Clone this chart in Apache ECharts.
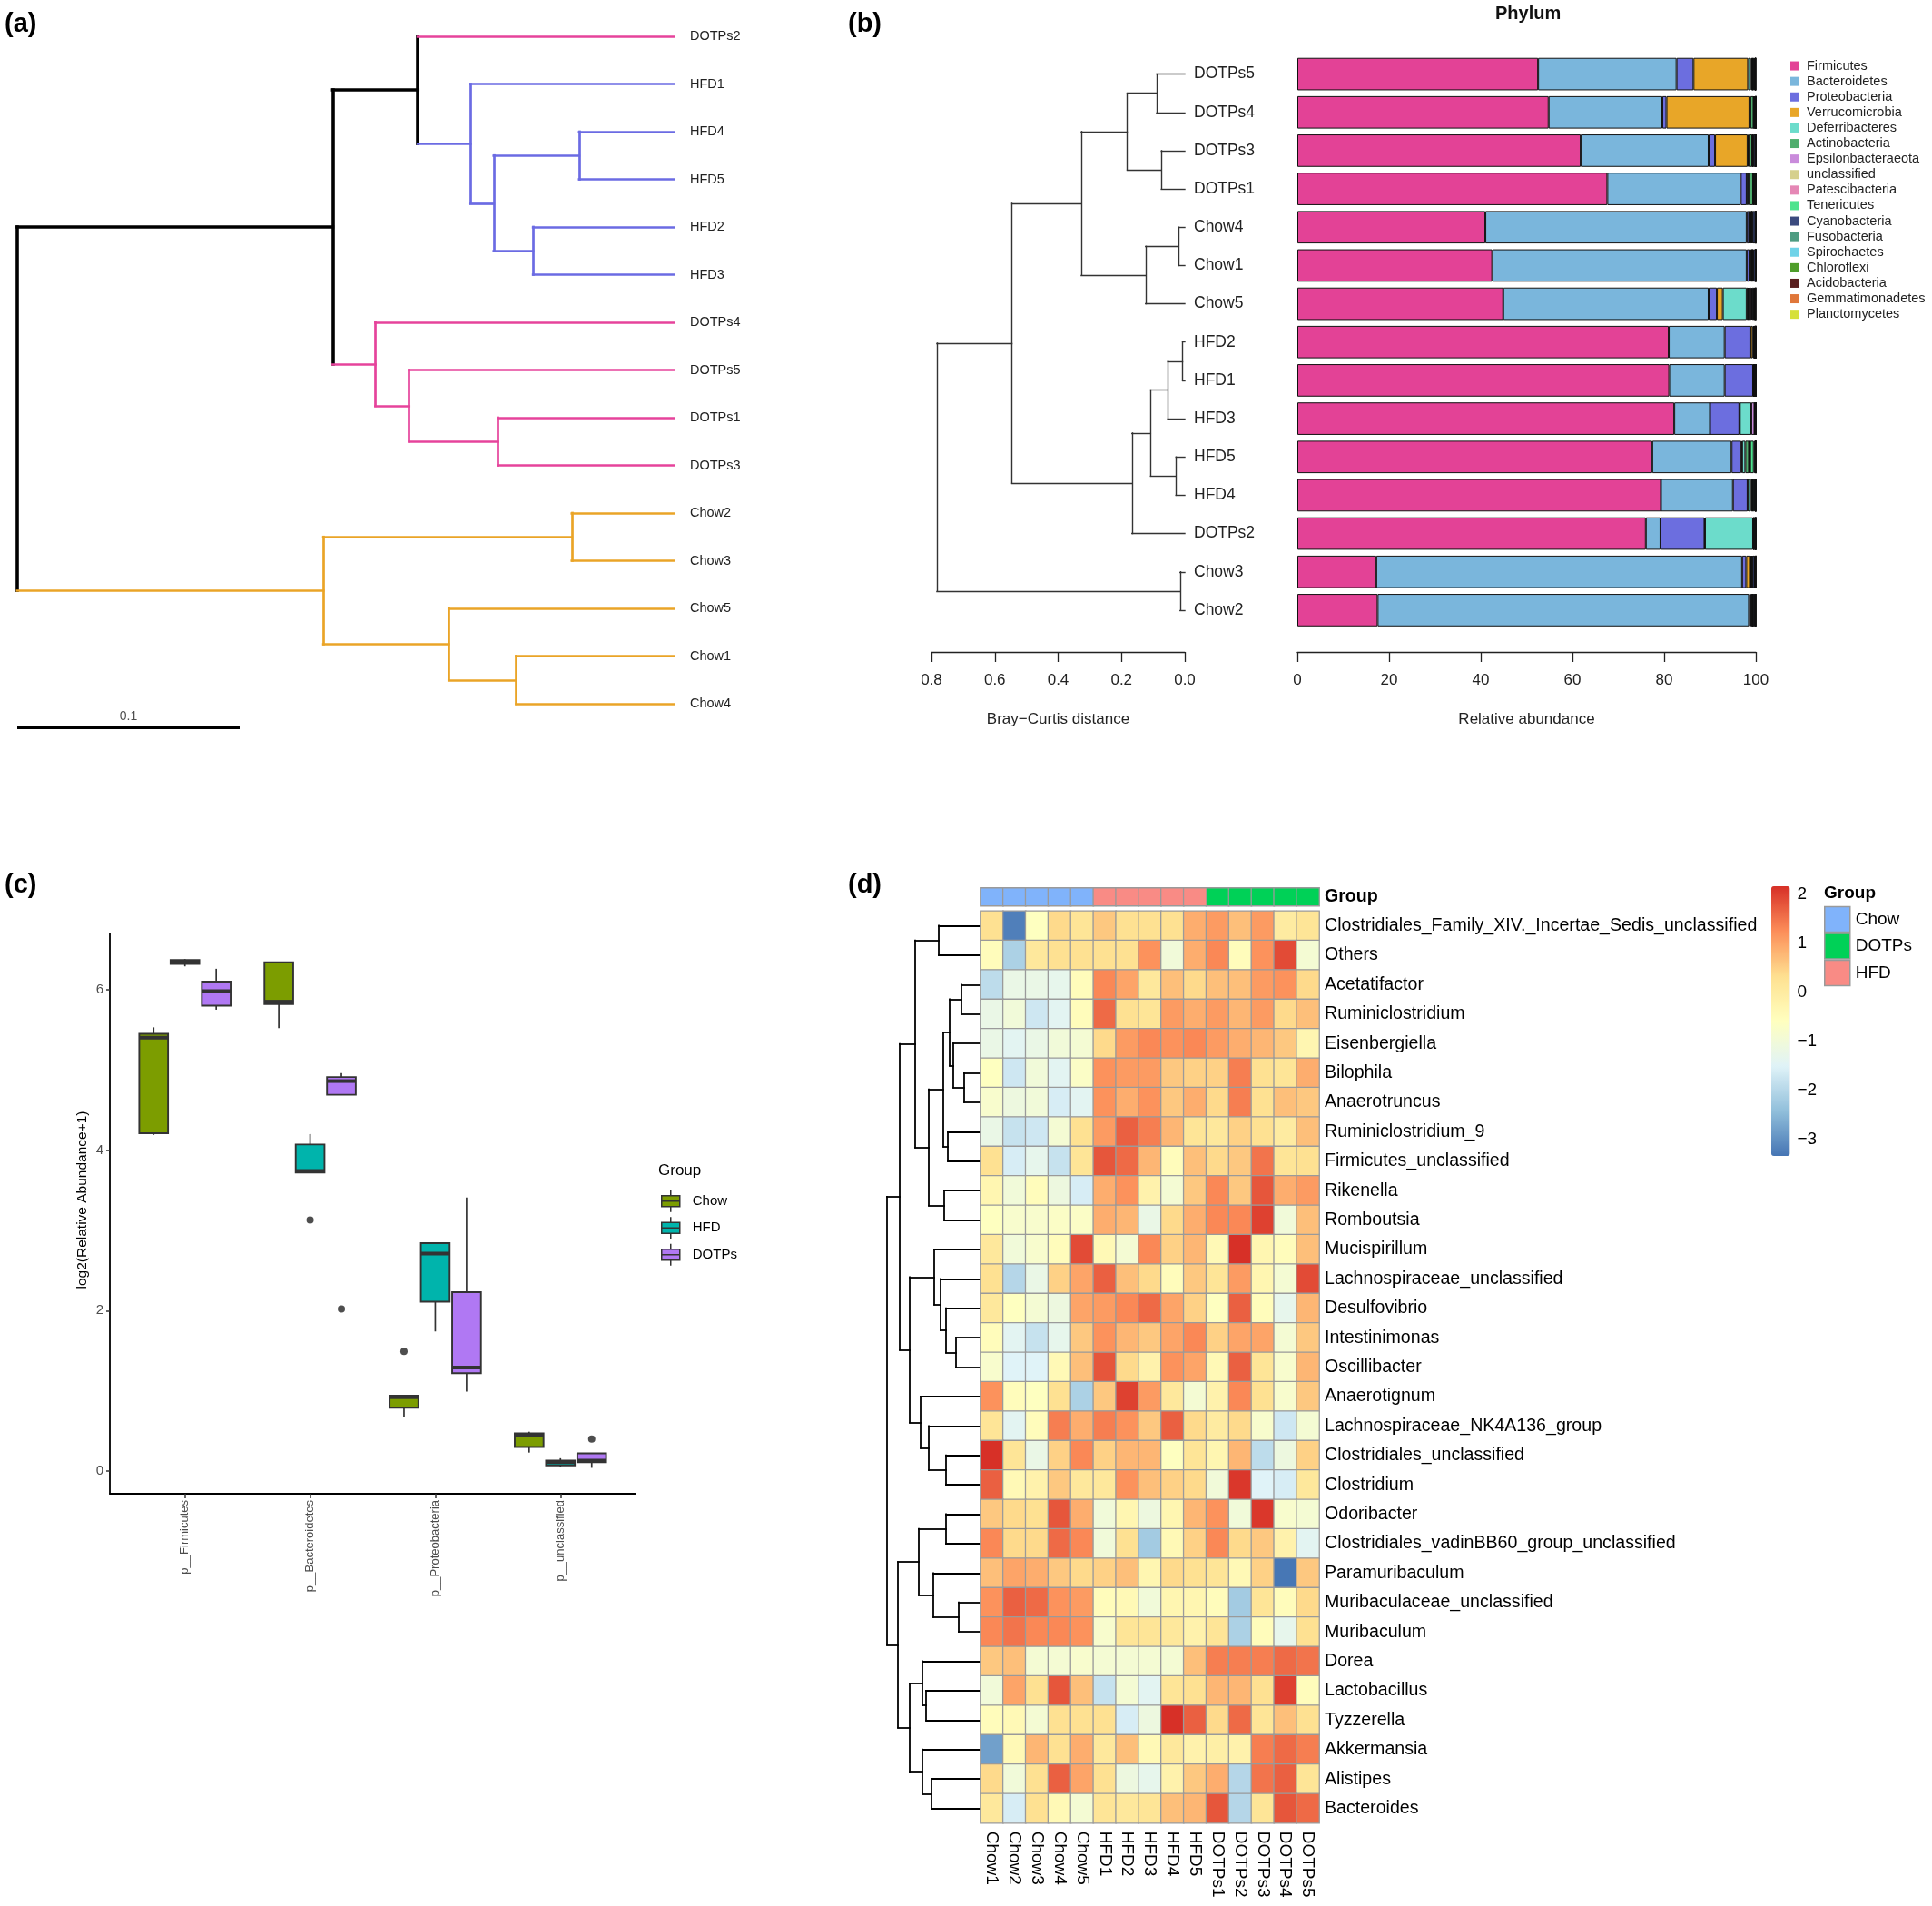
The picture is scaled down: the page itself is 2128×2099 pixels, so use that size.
<!DOCTYPE html>
<html><head><meta charset="utf-8">
<script src="https://cdn.jsdelivr.net/npm/echarts@6/dist/echarts.min.js"></script>
<style>html,body{margin:0;padding:0;background:#fff}#c{width:2128px;height:2099px}</style>
</head><body><div id="c"></div>
<script>
// ================= DATA =================
// (a) phylogenetic tree
const aLeaves = ['DOTPs2','HFD1','HFD4','HFD5','HFD2','HFD3','DOTPs4','DOTPs5','DOTPs1','DOTPs3','Chow2','Chow3','Chow5','Chow1','Chow4'];
const aLeafDepth = 0.2951;
const scaleBarLength = 0.1;
// [childA, childB, depth from root]; numbers refer to earlier merges
const aMerges = [
  ['HFD4','HFD5',0.2526], ['HFD2','HFD3',0.2319], [0,1,0.2142], ['HFD1',2,0.2038], ['DOTPs2',3,0.1801],
  ['DOTPs1','DOTPs3',0.2161], ['DOTPs5',5,0.1762], ['DOTPs4',6,0.1610], [4,7,0.1418],
  ['Chow2','Chow3',0.2493], ['Chow1','Chow4',0.2243], ['Chow5',10,0.1940], [9,11,0.1376], [8,12,0]
];
const treeColors = { DOTPs: '#E6439B', HFD: '#6B6BE3', Chow: '#EAA427' };

// (b) Bray-Curtis clustering + phylum composition
const bLeaves = ['DOTPs5','DOTPs4','DOTPs3','DOTPs1','Chow4','Chow1','Chow5','HFD2','HFD1','HFD3','HFD5','HFD4','DOTPs2','Chow3','Chow2'];
const bMerges = [
  ['DOTPs5','DOTPs4',0.089], ['DOTPs3','DOTPs1',0.074], [0,1,0.182], ['Chow4','Chow1',0.020], [3,'Chow5',0.124],
  [2,4,0.327], ['HFD2','HFD1',0.007], [6,'HFD3',0.054], ['HFD5','HFD4',0.028], [7,8,0.108], [9,'DOTPs2',0.167],
  [5,10,0.546], ['Chow3','Chow2',0.015], [11,12,0.783]
];
const phyla = ['Firmicutes','Bacteroidetes','Proteobacteria','Verrucomicrobia','Deferribacteres','Actinobacteria','Epsilonbacteraeota','unclassified','Patescibacteria','Tenericutes','Cyanobacteria','Fusobacteria','Spirochaetes','Chloroflexi','Acidobacteria','Gemmatimonadetes','Planctomycetes'];
const phylaColors = ['#E34296','#7AB6DC','#6C6EDF','#E8A628','#6CDCCB','#4FAE6D','#C98BDB','#D6D08C','#E587B5','#4DE38E','#3B4A7E','#4E9C82','#6FD3E8','#4E9D2A','#5A1E1E','#E0773A','#D6E03A'];
// rows follow bLeaves order, columns follow phyla order (%)
const abundance = [
  [52.5,30.2,3.7,11.9,0.6,0.3,0.05,0.1,0.05,0.3,0.1,0.05,0.05,0.02,0.03,0.02,0.03],
  [54.8,24.8,0.9,18.1,0.2,0.7,0.05,0.1,0.05,0.1,0.1,0.05,0.02,0.03,0,0,0],
  [61.8,27.9,1.4,7.1,0.2,0.8,0.05,0.1,0.05,0.1,0.4,0.02,0.02,0.02,0.04,0,0],
  [67.6,29.1,1.3,0.1,0.3,1.0,0.05,0.1,0.05,0.1,0.2,0.05,0.02,0.02,0.01,0,0],
  [41.0,57.0,0.5,0.1,0.1,0.3,0.05,0.1,0.05,0.1,0.6,0.05,0.02,0.02,0.01,0,0],
  [42.5,55.5,0.6,0.1,0.1,0.3,0.05,0.1,0.05,0.1,0.5,0.05,0.02,0.02,0.01,0,0],
  [44.9,44.8,1.8,1.3,5.2,0.3,0.1,0.1,0.5,0.2,0.4,0.1,0.1,0.05,0.1,0.05,0],
  [81.0,12.2,5.6,0.5,0.2,0.1,0.05,0.05,0.02,0.05,0.15,0.02,0.02,0.02,0.02,0,0],
  [81.1,12.1,6.2,0.05,0.05,0.1,0.02,0.05,0.01,0.02,0.25,0.01,0.01,0.01,0.02,0,0],
  [82.2,7.8,6.4,0.1,2.4,0.1,0.7,0.05,0.05,0.05,0.1,0.01,0.02,0.01,0.01,0,0],
  [77.4,17.3,2.1,0.2,0.7,0.8,0.1,0.1,0.05,0.8,0.3,0.05,0.05,0.03,0.02,0,0],
  [79.3,15.7,3.2,0.1,0.6,0.3,0.05,0.1,0.05,0.4,0.1,0.03,0.03,0.02,0.02,0,0],
  [76.0,3.2,9.6,0.1,10.5,0.1,0.05,0.05,0.02,0.05,0.25,0.02,0.02,0.02,0.02,0,0],
  [17.2,79.8,0.9,0.8,0.1,0.2,0.05,0.1,0.05,0.1,0.5,0.05,0.05,0.05,0.05,0,0],
  [17.5,81.0,0.5,0.1,0.1,0.1,0.02,0.05,0.02,0.05,0.4,0.02,0.02,0.02,0.1,0,0]
];

// (c) boxplots: [lower whisker, Q1, median, Q3, upper whisker] per phylum
const boxCategories = ['p__Firmicutes','p__Bacteroidetes','p__Proteobacteria','p__unclassified'];
const boxGroups = ['Chow','HFD','DOTPs'];
const boxColors = ['#7C9D00','#00B4AC','#B078F3'];
const chowStats  = [[4.19,4.21,5.40,5.45,5.53],[5.52,5.82,5.85,6.34,6.35],[0.67,0.79,0.92,0.94,0.94],[0.23,0.30,0.45,0.47,0.49]];
const hfdStats   = [[6.29,6.32,6.35,6.37,6.38],[3.72,3.72,3.74,4.07,4.20],[1.74,2.11,2.71,2.84,2.85],[0.05,0.07,0.11,0.13,0.16]];
const dotpsStats = [[5.75,5.80,5.98,6.10,6.26],[4.69,4.69,4.86,4.91,4.96],[0.99,1.22,1.29,2.23,3.41],[0.04,0.11,0.13,0.22,0.22]];
// outliers: [category number (1-based), value]
const chowOutliers  = [[3,1.49]];
const hfdOutliers   = [[2,3.13]];
const dotpsOutliers = [[2,2.02],[4,0.40]];
const boxYTicks = [0,2,4,6];

// (d) heatmap
const heatSamples = ['Chow1','Chow2','Chow3','Chow4','Chow5','HFD1','HFD2','HFD3','HFD4','HFD5','DOTPs1','DOTPs2','DOTPs3','DOTPs4','DOTPs5'];
const genera = ['Clostridiales_Family_XIV._Incertae_Sedis_unclassified','Others','Acetatifactor','Ruminiclostridium','Eisenbergiella','Bilophila','Anaerotruncus','Ruminiclostridium_9','Firmicutes_unclassified','Rikenella','Romboutsia','Mucispirillum','Lachnospiraceae_unclassified','Desulfovibrio','Intestinimonas','Oscillibacter','Anaerotignum','Lachnospiraceae_NK4A136_group','Clostridiales_unclassified','Clostridium','Odoribacter','Clostridiales_vadinBB60_group_unclassified','Paramuribaculum','Muribaculaceae_unclassified','Muribaculum','Dorea','Lactobacillus','Tyzzerella','Akkermansia','Alistipes','Bacteroides'];
const heatValues = [
  [0.3,-3.2,-0.6,0.4,0.2, 0.6,0.3,0.3,0.3,0.9, 1.1,0.7,1.1,0.0,0.2],
  [-0.5,-2.1,0.1,0.3,0.3, 0.3,0.3,1.2,-1.0,0.9, 1.3,-0.5,1.2,1.9,-0.9],
  [-1.9,-1.2,-1.2,-1.3,-0.5, 1.3,1.0,0.1,0.7,0.4, 0.7,0.7,1.1,1.2,0.4],
  [-1.2,-1.0,-1.7,-1.4,-0.5, 1.6,0.3,0.2,1.1,0.9, 1.1,0.8,1.1,0.4,0.7],
  [-1.2,-1.4,-1.2,-1.0,-0.9, 0.4,1.1,1.3,1.2,1.3, 1.1,0.9,0.8,0.6,-0.3],
  [-0.6,-1.7,-1.0,-1.4,-0.7, 1.2,1.1,1.1,0.6,0.5, 0.5,1.4,0.3,0.2,0.9],
  [-0.8,-1.1,-1.0,-1.6,-1.4, 1.2,0.9,1.2,0.6,0.9, 0.4,1.4,0.3,0.7,0.6],
  [-1.2,-1.8,-1.7,-0.9,0.3, 1.1,1.7,1.4,0.8,0.2, 0.1,0.5,0.3,0.0,0.7],
  [0.3,-1.6,-1.3,-1.8,0.2, 1.8,1.6,0.8,-0.5,0.7, 0.4,0.6,1.5,0.2,0.3],
  [-0.3,-1.0,-0.5,-1.1,-1.6, 0.9,1.2,-0.2,-0.9,0.6, 1.3,0.6,1.8,0.9,1.1],
  [-0.6,-0.8,-0.8,-0.7,-0.7, 0.9,0.8,-1.2,0.4,0.9, 1.3,1.3,2.0,-1.0,0.7],
  [0.1,-1.0,-0.8,-0.5,1.9, -0.4,-0.9,1.3,0.5,0.8, -0.4,2.2,-0.3,-0.5,0.7],
  [0.3,-2.0,-1.2,0.5,1.0, 1.7,0.7,0.4,-0.5,0.6, 0.2,1.1,-0.3,-0.9,1.9],
  [0.1,-0.6,-0.9,-1.1,1.0, 1.1,1.3,1.6,1.0,0.5, -0.6,1.7,-0.5,-1.3,0.8],
  [-0.5,-1.4,-1.8,-1.3,0.6, 1.2,0.8,0.6,1.0,1.3, 0.5,1.0,1.0,-0.9,0.6],
  [-0.8,-1.5,-1.5,-0.4,0.7, 1.8,0.4,-0.2,1.2,1.0, -0.4,1.7,0.2,-0.8,0.8],
  [1.2,-0.5,-0.6,0.3,-2.1, 0.6,2.0,1.1,0.1,-0.9, -0.2,1.3,0.3,-0.8,0.6],
  [0.2,-1.4,-0.5,1.4,0.9, 1.4,1.2,0.6,1.7,0.4, 0.0,0.4,-0.8,-1.7,-0.9],
  [2.2,0.2,-1.2,0.5,1.3, 0.5,0.8,0.8,-0.6,0.2, -0.3,0.8,-1.9,-1.1,0.5],
  [1.7,-0.4,-0.2,0.6,0.1, 0.1,1.2,0.7,0.5,0.4, -1.0,2.1,-1.5,-1.6,0.1],
  [0.6,0.4,0.3,1.8,0.9, -1.0,-0.3,-1.1,-0.3,0.8, 1.2,-1.0,2.1,-0.8,-0.9],
  [1.3,0.4,0.4,1.6,1.3, -1.0,0.3,-2.2,-0.4,0.5, 1.3,0.4,0.6,-0.2,-1.4],
  [0.7,1.0,0.9,0.6,0.4, 0.5,0.7,-0.3,0.4,0.3, 0.2,-0.4,0.5,-3.3,0.6],
  [1.2,1.7,1.6,1.2,1.1, -0.5,-0.4,-1.0,-0.3,-0.3, -0.5,-2.2,0.2,-0.5,0.4],
  [1.3,1.5,1.3,1.3,1.2, -0.8,0.2,0.2,0.1,-0.2, 0.2,-2.1,-0.5,-1.3,0.3],
  [0.6,0.7,-0.9,-0.9,-0.8, -0.9,-0.9,-0.9,-0.9,0.7, 1.4,1.4,1.4,1.6,1.5],
  [-1.0,1.0,0.3,1.8,0.7, -1.8,-0.9,-1.4,0.2,0.3, 0.8,0.8,0.3,2.0,-0.5],
  [-0.5,-0.4,-0.9,0.3,0.3, 0.3,-1.6,-1.1,2.2,1.7, 0.4,1.6,0.2,0.7,0.3],
  [-2.8,-0.4,0.8,0.3,0.9, 0.1,0.7,-0.4,0.1,-0.2, -0.1,-0.2,1.4,1.6,1.4],
  [0.4,-1.0,0.3,1.7,1.0, 0.3,-1.1,-1.3,-0.2,0.6, 0.9,-2.0,1.5,1.7,0.2],
  [0.1,-1.6,0.3,-0.4,-0.9, 0.2,0.1,0.2,0.7,0.8, 1.8,-2.0,0.2,1.8,1.6]
];
const heatMin = -3.33, heatMax = 2.17;
const heatTicks = [-3,-2,-1,0,1,2];
const heatPalette = ['#4575B4','#91BFDB','#E0F3F8','#FFFFBF','#FEE090','#FC8D59','#D73027'];
const groupLevels = ['Chow','DOTPs','HFD'];
const groupColors = ['#80B3FB','#00D157','#F98B85'];
const G = genera;
const dMerges = [
  [G[0],G[1],0.45], [G[2],G[3],0.20], [G[5],G[6],0.17], [G[4],2,0.29], [1,3,0.33], [G[7],G[8],0.35],
  [4,5,0.40], [G[9],G[10],0.39], [6,7,0.56], [0,8,0.71],
  [G[14],G[15],0.26], [G[13],10,0.37], [G[12],11,0.43], [G[11],12,0.50],
  [G[18],G[19],0.37], [G[17],14,0.56], [G[16],15,0.65], [13,16,0.77], [9,17,0.88],
  [G[20],G[21],0.37], [G[23],G[24],0.23], [G[22],20,0.51], [19,21,0.67],
  [G[26],G[27],0.59], [G[25],23,0.63], [G[29],G[30],0.53], [G[28],25,0.63], [24,26,0.77],
  [22,27,0.90], [18,28,1.02]
];
const dRootHeight = 1.02;

// ================= HELPERS =================
function dendroSegments(leaves, merges, leafX, groupOf) {
  const info = {};
  leaves.forEach((n, i) => { info[n] = { x: leafX, y: i, g: groupOf ? groupOf(n) : 'all' }; });
  const nodes = [], segs = [];
  const ref = c => (typeof c === 'number' ? nodes[c] : info[c]);
  merges.forEach(m => {
    const a = ref(m[0]), b = ref(m[1]);
    const node = { x: m[2], y: (a.y + b.y) / 2, g: a.g === b.g ? a.g : null };
    segs.push({ coords: [[node.x, a.y], [node.x, b.y]], g: node.g });
    segs.push({ coords: [[node.x, a.y], [a.x, a.y]], g: a.g });
    segs.push({ coords: [[node.x, b.y], [b.x, b.y]], g: b.g });
    nodes.push(node);
  });
  return segs;
}
const groupOfName = n => n.replace(/\d+$/, '');
const minus = v => (v < 0 ? '\u2212' + Math.abs(v) : String(v));
const FONT = 'Liberation Sans, Arial, Helvetica, sans-serif';

// ================= LAYOUT =================
const grids = [
  { left: 19, top: 40, width: 723, height: 735 },          // 0 (a) tree
  { left: 1026, top: 60.5, width: 279, height: 632.5 },    // 1 (b) dendrogram
  { left: 1429, top: 60.5, width: 505, height: 632.5 },    // 2 (b) bars
  { left: 121, top: 1028, width: 579, height: 617 },       // 3 (c) boxplot
  { left: 977, top: 1003.3, width: 102, height: 1004.4 },  // 4 (d) dendrogram
  { left: 1080, top: 1003.3, width: 373, height: 1004.4 }, // 5 (d) heatmap
  { left: 1080, top: 978, width: 373, height: 19.5 },      // 6 (d) annotation
  { left: 1951, top: 976, width: 20.5, height: 297 }       // 7 (d) colour bar scale
].map(g => Object.assign({ containLabel: false }, g));

const hidden = { show: false };
const xAxes = [], yAxes = [];
// (a)
xAxes.push({ gridIndex: 0, type: 'value', min: 0, max: aLeafDepth, show: false });
yAxes.push({ gridIndex: 0, type: 'value', min: 0, max: aLeaves.length - 1, inverse: true, position: 'right',
  axisLine: hidden, axisTick: hidden, splitLine: hidden,
  axisLabel: { customValues: aLeaves.map((_, i) => i), formatter: v => aLeaves[v], margin: 18, fontSize: 14.5, color: '#222', fontFamily: FONT } });
// (b) dendro
const bAxisLine = { show: true, onZero: false, lineStyle: { color: '#222', width: 1.3 } };
xAxes.push({ gridIndex: 1, type: 'value', min: 0, max: 0.8, interval: 0.2, inverse: true, offset: 25, position: 'bottom',
  axisLine: bAxisLine, axisTick: { show: true, length: 11, lineStyle: { color: '#222', width: 1.3 } }, splitLine: hidden,
  axisLabel: { formatter: v => v.toFixed(1), fontSize: 17, color: '#222', margin: 23 },
  name: 'Bray\u2212Curtis distance', nameLocation: 'middle', nameGap: 66, nameTextStyle: { fontSize: 17, color: '#222' } });
yAxes.push({ gridIndex: 1, type: 'value', min: -0.5, max: bLeaves.length - 0.5, inverse: true, position: 'right',
  axisLine: { show: false, onZero: false }, axisTick: hidden, splitLine: hidden,
  axisLabel: { customValues: bLeaves.map((_, i) => i), formatter: v => bLeaves[v], margin: 10, fontSize: 17.5, color: '#222' } });
// (b) bars
xAxes.push({ gridIndex: 2, type: 'value', min: 0, max: 100, interval: 20, offset: 25, position: 'bottom',
  axisLine: bAxisLine, axisTick: { show: true, length: 11, lineStyle: { color: '#222', width: 1.3 } }, splitLine: hidden,
  axisLabel: { fontSize: 17, color: '#222', margin: 23 },
  name: 'Relative abundance', nameLocation: 'middle', nameGap: 66, nameTextStyle: { fontSize: 17, color: '#222' } });
yAxes.push({ gridIndex: 2, type: 'category', data: bLeaves, inverse: true, show: false });
// (c)
xAxes.push({ gridIndex: 3, type: 'value', min: 0.4, max: 0.6 + boxCategories.length, position: 'bottom',
  axisLine: { show: true, onZero: false, lineStyle: { color: '#000', width: 1.8 } },
  axisTick: { show: true, customValues: boxCategories.map((_, i) => i + 1), length: 5, lineStyle: { color: '#333', width: 1.5 } },
  splitLine: hidden,
  axisLabel: { customValues: boxCategories.map((_, i) => i + 1), formatter: v => boxCategories[v - 1], rotate: 90, fontSize: 13, color: '#4D4D4D', margin: 7 } });
yAxes.push({ gridIndex: 3, type: 'value', min: -0.283, max: 6.70, position: 'left',
  axisLine: { show: true, onZero: false, lineStyle: { color: '#000', width: 1.8 } },
  axisTick: { show: true, customValues: boxYTicks, length: 4, lineStyle: { color: '#333', width: 1.5 } },
  splitLine: hidden,
  axisLabel: { customValues: boxYTicks, fontSize: 15, color: '#4D4D4D', margin: 7 },
  name: 'log2(Relative Abundance+1)', nameLocation: 'middle', nameGap: 22,
  nameTextStyle: { fontSize: 15.5, color: '#000', padding: [0, 0, 0, 30] } });
// (d) dendro
xAxes.push({ gridIndex: 4, type: 'value', min: 0, max: dRootHeight, inverse: true, show: false });
yAxes.push({ gridIndex: 4, type: 'value', min: -0.5, max: genera.length - 0.5, inverse: true, show: false });
// (d) heatmap
xAxes.push({ gridIndex: 5, type: 'category', data: heatSamples, position: 'bottom',
  axisLine: hidden, axisTick: hidden, splitLine: hidden,
  axisLabel: { rotate: -90, fontSize: 19, color: '#000', margin: 9, interval: 0 } });
yAxes.push({ gridIndex: 5, type: 'category', data: genera, inverse: true, position: 'right',
  axisLine: hidden, axisTick: hidden, splitLine: hidden,
  axisLabel: { fontSize: 19.6, color: '#000', margin: 6, interval: 0 } });
// (d) annotation
xAxes.push({ gridIndex: 6, type: 'category', data: heatSamples, show: false });
yAxes.push({ gridIndex: 6, type: 'category', data: ['Group'], position: 'right',
  axisLine: hidden, axisTick: hidden, splitLine: hidden,
  axisLabel: { fontSize: 19.6, fontWeight: 'bold', color: '#000', margin: 6 } });
// (d) colour scale labels
xAxes.push({ gridIndex: 7, type: 'value', show: false });
yAxes.push({ gridIndex: 7, type: 'value', min: heatMin, max: heatMax, position: 'right',
  axisLine: hidden, axisTick: hidden, splitLine: hidden,
  axisLabel: { customValues: heatTicks, formatter: minus, fontSize: 19, color: '#000', margin: 8 } });

// ================= SERIES =================
const series = [];
// (a) tree
const aSegs = dendroSegments(aLeaves, aMerges, aLeafDepth, groupOfName);
series.push({ type: 'lines', coordinateSystem: 'cartesian2d', xAxisIndex: 0, yAxisIndex: 0, clip: false, silent: true,
  lineStyle: { width: 2.7, opacity: 1, cap: 'square' },
  data: aSegs.map(s => ({ coords: s.coords, lineStyle: { color: s.g ? treeColors[s.g] : '#000', width: s.g ? 2.7 : 3.6 } })) });
series.push({ type: 'lines', coordinateSystem: 'cartesian2d', xAxisIndex: 0, yAxisIndex: 0, clip: false, silent: true,
  lineStyle: { width: 3, color: '#000', opacity: 1 },
  data: [{ coords: [[0, aLeaves.length - 0.5], [scaleBarLength, aLeaves.length - 0.5]] }] });
series.push({ type: 'scatter', xAxisIndex: 0, yAxisIndex: 0, clip: false, silent: true, symbolSize: 0,
  data: [[scaleBarLength / 2, aLeaves.length - 0.5]],
  label: { show: true, position: 'top', distance: 5, formatter: String(scaleBarLength), fontSize: 14, color: '#222' } });
// (b) dendrogram
const bSegs = dendroSegments(bLeaves, bMerges, 0, null);
series.push({ type: 'lines', coordinateSystem: 'cartesian2d', xAxisIndex: 1, yAxisIndex: 1, clip: false, silent: true,
  lineStyle: { width: 1.4, color: '#333', opacity: 1, cap: 'square' },
  data: bSegs.map(s => ({ coords: s.coords })) });
// (b) stacked bars
phyla.forEach((p, j) => {
  series.push({ type: 'bar', name: p, stack: 'phylum', xAxisIndex: 2, yAxisIndex: 2, barWidth: 35.7, silent: true,
    itemStyle: { color: phylaColors[j], borderColor: '#111', borderWidth: 1 },
    data: abundance.map(row => row[j]) });
});
// (c) boxplots
const boxOffsets = [-0.25, 0, 0.25];
const boxWidthUnits = 0.23;
function makeBoxRender(color) {
  return function (params, api) {
    const x = api.value(0);
    const pLo = api.coord([x, api.value(1)]);
    const pQ1 = api.coord([x, api.value(2)]);
    const pMed = api.coord([x, api.value(3)]);
    const pQ3 = api.coord([x, api.value(4)]);
    const pHi = api.coord([x, api.value(5)]);
    const w = api.size([boxWidthUnits, 0])[0];
    const cx = pMed[0], stroke = '#333';
    return { type: 'group', children: [
      { type: 'line', shape: { x1: cx, y1: pHi[1], x2: cx, y2: pQ3[1] }, style: { stroke, lineWidth: 1.7 } },
      { type: 'line', shape: { x1: cx, y1: pQ1[1], x2: cx, y2: pLo[1] }, style: { stroke, lineWidth: 1.7 } },
      { type: 'rect', shape: { x: cx - w / 2, y: pQ3[1], width: w, height: pQ1[1] - pQ3[1] }, style: { fill: color, stroke, lineWidth: 1.9 } },
      { type: 'line', shape: { x1: cx - w / 2, y1: pMed[1], x2: cx + w / 2, y2: pMed[1] }, style: { stroke, lineWidth: 4 } }
    ] };
  };
}
const allStats = [chowStats, hfdStats, dotpsStats];
const allOutliers = [chowOutliers, hfdOutliers, dotpsOutliers];
boxGroups.forEach((g, gi) => {
  series.push({ type: 'custom', name: 'c:' + g, xAxisIndex: 3, yAxisIndex: 3, silent: true,
    itemStyle: { color: boxColors[gi] },
    dimensions: ['x', 'lo', 'q1', 'med', 'q3', 'hi'], encode: { x: 0, y: [1, 2, 3, 4, 5] },
    renderItem: makeBoxRender(boxColors[gi]),
    data: allStats[gi].map((s, i) => [i + 1 + boxOffsets[gi]].concat(s)) });
});
boxGroups.forEach((g, gi) => {
  series.push({ type: 'scatter', name: 'outlier ' + g, xAxisIndex: 3, yAxisIndex: 3, silent: true,
    symbolSize: 8, itemStyle: { color: '#222' },
    data: allOutliers[gi].map(o => [o[0] + boxOffsets[gi], o[1]]) });
});
// (d) dendrogram
const dSegs = dendroSegments(genera, dMerges, 0, null);
series.push({ type: 'lines', coordinateSystem: 'cartesian2d', xAxisIndex: 4, yAxisIndex: 4, clip: false, silent: true,
  lineStyle: { width: 1.8, color: '#000', opacity: 1, cap: 'square' },
  data: dSegs.map(s => ({ coords: s.coords })) });
// (d) heatmap
const heatSeriesIndex = series.length;
const heatData = [];
heatValues.forEach((row, r) => row.forEach((v, c) => heatData.push([c, r, v])));
series.push({ type: 'heatmap', xAxisIndex: 5, yAxisIndex: 5, silent: true, emphasis: { disabled: true },
  itemStyle: { borderColor: '#9A9A9A', borderWidth: 1.3 }, data: heatData });
// (d) annotation row
groupLevels.forEach((g, gi) => {
  series.push({ type: 'heatmap', name: 'd:' + g, xAxisIndex: 6, yAxisIndex: 6, silent: true, emphasis: { disabled: true },
    itemStyle: { color: groupColors[gi], borderColor: '#9A9A9A', borderWidth: 1.3 },
    data: heatSamples.map((s, c) => [c, 0, 1]).filter((d, c) => groupOfName(heatSamples[c]) === g) });
});

// ================= OPTION =================
const panelLabel = (t, l, tp) => ({ text: t, left: l, top: tp, padding: 0, textStyle: { fontSize: 29, fontWeight: 'bold', color: '#000', fontFamily: FONT } });
const option = {
  animation: false,
  backgroundColor: '#fff',
  textStyle: { fontFamily: FONT },
  title: [
    panelLabel('(a)', 5, 12), panelLabel('(b)', 934, 12), panelLabel('(c)', 5, 960), panelLabel('(d)', 934, 960),
    { text: 'Phylum', left: 1647, top: 5, padding: 0, textStyle: { fontSize: 20, fontWeight: 'bold', color: '#111' } },
    { text: 'Group', left: 725, top: 1281, padding: 0, textStyle: { fontSize: 17, fontWeight: 'normal', color: '#000' } },
    { text: 'Group', left: 2009, top: 974, padding: 0, textStyle: { fontSize: 19, fontWeight: 'bold', color: '#000' } }
  ],
  grid: grids,
  xAxis: xAxes,
  yAxis: yAxes,
  legend: [
    { data: phyla, orient: 'vertical', left: 1972, top: 64, padding: 0, itemGap: 0, itemWidth: 10, itemHeight: 10,
      icon: 'rect', selectedMode: false, itemStyle: { borderWidth: 0 },
      textStyle: { fontSize: 14.5, lineHeight: 17.1, color: '#222', padding: [0, 0, 0, 3] } },
    { data: boxGroups.map(g => 'c:' + g), orient: 'vertical', left: 728, top: 1310, padding: 0, itemGap: 4,
      itemWidth: 22, itemHeight: 24, selectedMode: false,
      icon: 'path://M11,0V6M11,18V24M1,6H21V18H1ZM1,12H21',
      itemStyle: { borderColor: '#333', borderWidth: 1.5 },
      formatter: n => n.split(':')[1], textStyle: { fontSize: 15, color: '#000', padding: [0, 0, 0, 8] } },
    { data: groupLevels.map(g => 'd:' + g), orient: 'vertical', left: 2009, top: 997.7, padding: 0, itemGap: 0,
      itemWidth: 28, itemHeight: 28, icon: 'rect', selectedMode: false,
      itemStyle: { borderColor: '#9A9A9A', borderWidth: 1.5 },
      formatter: n => n.split(':')[1], textStyle: { fontSize: 19, color: '#000', padding: [0, 0, 0, 1] } }
  ],
  visualMap: {
    type: 'continuous', min: heatMin, max: heatMax, seriesIndex: heatSeriesIndex, calculable: false,
    orient: 'vertical', left: 1951, top: 976, itemWidth: 20.5, itemHeight: 297, padding: 0,
    text: null, hoverLink: false, inRange: { color: heatPalette }
  },
  series: series
};
const chart = echarts.init(document.getElementById('c'), null, { renderer: 'canvas', width: 2128, height: 2099 });
chart.setOption(option);
</script>
</body></html>
